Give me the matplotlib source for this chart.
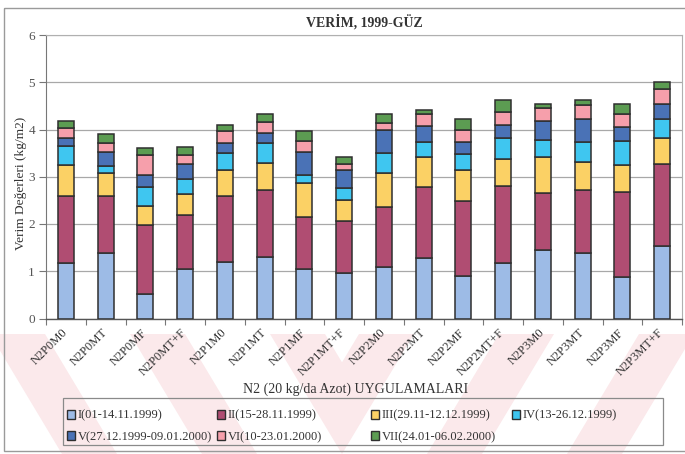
import matplotlib
matplotlib.use("Agg")
import matplotlib.pyplot as plt
from matplotlib.patches import Patch, Polygon, Rectangle
import numpy as np

plt.rcParams["font.family"] = ["Liberation Serif", "DejaVu Serif"]

# Treatments (N2 = 20 kg/da nitrogen)
treatments = ["N2P0M0", "N2P0MT", "N2P0MF", "N2P0MT+F",
              "N2P1M0", "N2P1MT", "N2P1MF", "N2P1MT+F",
              "N2P2M0", "N2P2MT", "N2P2MF", "N2P2MT+F",
              "N2P3M0", "N2P3MT", "N2P3MF", "N2P3MT+F"]

# Harvest periods
periods = ["I(01-14.11.1999)", "II(15-28.11.1999)", "III(29.11-12.12.1999)",
           "IV(13-26.12.1999)", "V(27.12.1999-09.01.2000)", "VI(10-23.01.2000)",
           "VII(24.01-06.02.2000)"]

# Yield per period (kg/m2)
p1 = [1.18, 1.38, 0.51, 1.04, 1.20, 1.31, 1.04, 0.97, 1.10, 1.28, 0.89, 1.17, 1.45, 1.39, 0.88, 1.53]
p2 = [1.42, 1.21, 1.46, 1.14, 1.40, 1.40, 1.11, 1.09, 1.27, 1.50, 1.59, 1.63, 1.21, 1.33, 1.79, 1.75]
p3 = [0.65, 0.48, 0.41, 0.45, 0.54, 0.59, 0.72, 0.45, 0.71, 0.63, 0.67, 0.58, 0.75, 0.60, 0.57, 0.53]
p4 = [0.40, 0.16, 0.41, 0.32, 0.37, 0.41, 0.17, 0.26, 0.42, 0.32, 0.33, 0.43, 0.37, 0.41, 0.52, 0.41]
p5 = [0.16, 0.30, 0.25, 0.31, 0.21, 0.22, 0.48, 0.37, 0.48, 0.35, 0.25, 0.28, 0.40, 0.49, 0.30, 0.33]
p6 = [0.22, 0.19, 0.42, 0.21, 0.25, 0.22, 0.24, 0.14, 0.16, 0.25, 0.25, 0.28, 0.28, 0.29, 0.26, 0.30]
p7 = [0.14, 0.18, 0.14, 0.15, 0.13, 0.17, 0.20, 0.14, 0.19, 0.09, 0.25, 0.26, 0.08, 0.12, 0.22, 0.16]
series = [p1, p2, p3, p4, p5, p6, p7]

colors = ["#9dbbe6", "#b04d72", "#fbd165", "#3fc6f0", "#4a72b6", "#f69fab", "#5c9c52"]
edge = "#2f2f2f"

W, H = 685, 454
fig = plt.figure(figsize=(W / 100, H / 100), dpi=100)

# Background layer (in pixel coordinates): pale diagonal bands and outer frame
bg = fig.add_axes([0, 0, 1, 1], zorder=-5)
bg.set_xlim(0, W)
bg.set_ylim(H, 0)
bg.axis("off")
pink = "#fbe9eb"
y_top, y_bot = 334, H
shift = 0.6 * (y_bot - y_top)
mid = 342
clip_left = Rectangle((0, y_top), mid, y_bot - y_top, transform=bg.transData)
clip_right = Rectangle((mid, y_top), W - mid, y_bot - y_top, transform=bg.transData)
for x0 in [-150, -10, 130, 270]:
    w = 55
    poly = Polygon([(x0, y_top), (x0 + w, y_top), (x0 + w + shift, y_bot), (x0 + shift, y_bot)],
                   closed=True, facecolor=pink, edgecolor="none")
    bg.add_patch(poly)
    poly.set_clip_path(clip_left)
    mx = 2 * mid - x0
    poly2 = Polygon([(mx, y_top), (mx - w, y_top), (mx - w - shift, y_bot), (mx - shift, y_bot)],
                    closed=True, facecolor=pink, edgecolor="none")
    bg.add_patch(poly2)
    poly2.set_clip_path(clip_right)
bg.add_patch(Rectangle((4, 8), W + 10, 443, fill=False, edgecolor="#9a9a9a", linewidth=1.0))
# legend frame
bg.add_patch(Rectangle((63, 398), 600, 47, fill=False, edgecolor="#8a8a8a", linewidth=0.9))

# Main stacked bar chart
ax = fig.add_axes([46 / W, 1 - 318.5 / H, (682 - 46) / W, (318.5 - 35) / H])
x = np.arange(len(treatments))
bottom = np.zeros(len(treatments))
for vals, col, lab in zip(series, colors, periods):
    ax.bar(x, vals, width=0.40, bottom=bottom, color=col, edgecolor=edge,
           linewidth=1.1, label=lab, zorder=3)
    bottom += np.array(vals)

ax.set_xlim(-0.5, len(treatments) - 0.5)
ax.set_ylim(0, 6)
ax.set_yticks(range(0, 7))
ax.yaxis.grid(True, color="#a8a8a8", linewidth=0.9, zorder=0)
ax.tick_params(axis="y", direction="out", length=5, width=0.8, color="#777777",
               labelsize=9.5, labelcolor="#555555", pad=3)

ax.set_xticks(x)
ax.set_xticklabels(treatments, rotation=45, ha="right", va="center", rotation_mode="anchor",
                   fontsize=9, color="#333333")
ax.tick_params(axis="x", which="major", length=0, pad=9)
ax.set_xticks(np.arange(-0.5, len(treatments), 1.0), minor=True)
ax.tick_params(axis="x", which="minor", direction="out", length=4, width=0.8, color="#777777")

for s in ["top", "right"]:
    ax.spines[s].set_color("#b0b0b0")
    ax.spines[s].set_linewidth(0.8)
ax.spines["left"].set_color("#777777")
ax.spines["bottom"].set_color("#555555")
ax.spines["bottom"].set_linewidth(1.0)
ax.set_facecolor("white")

fig.text(21 / W, 1 - 183 / H, "Verim Değerleri (kg/m2)", rotation=90, ha="center", va="center",
         fontsize=9.6, color="#333333")
fig.text(364 / W, 1 - 22 / H, "VERİM, 1999-GÜZ", ha="center", va="center",
         fontsize=10, fontweight="bold", color="#333333")
fig.text(356 / W, 1 - 389 / H, "N2 (20 kg/da Azot) UYGULAMALARI", ha="center", va="center",
         fontsize=10, color="#333333")

# Legend: four fixed-width columns, filled row by row
handles = [Patch(facecolor=c, edgecolor=edge, linewidth=1.0) for c in colors]
columns = [[0, 4], [1, 5], [2, 6], [3]]
col_x = [64, 214, 368, 509]
for idx, cx in zip(columns, col_x):
    leg = fig.legend([handles[i] for i in idx], [periods[i] for i in idx],
                     loc="upper left", bbox_to_anchor=(cx / W, 1 - 407 / H),
                     frameon=False, fontsize=9,
                     handlelength=0.7, handleheight=0.7, handletextpad=0.2,
                     borderaxespad=0, borderpad=0.2, labelspacing=0.75)
    for t in leg.get_texts():
        t.set_color("#333333")

fig.savefig("out.png", dpi=100, facecolor="white")
